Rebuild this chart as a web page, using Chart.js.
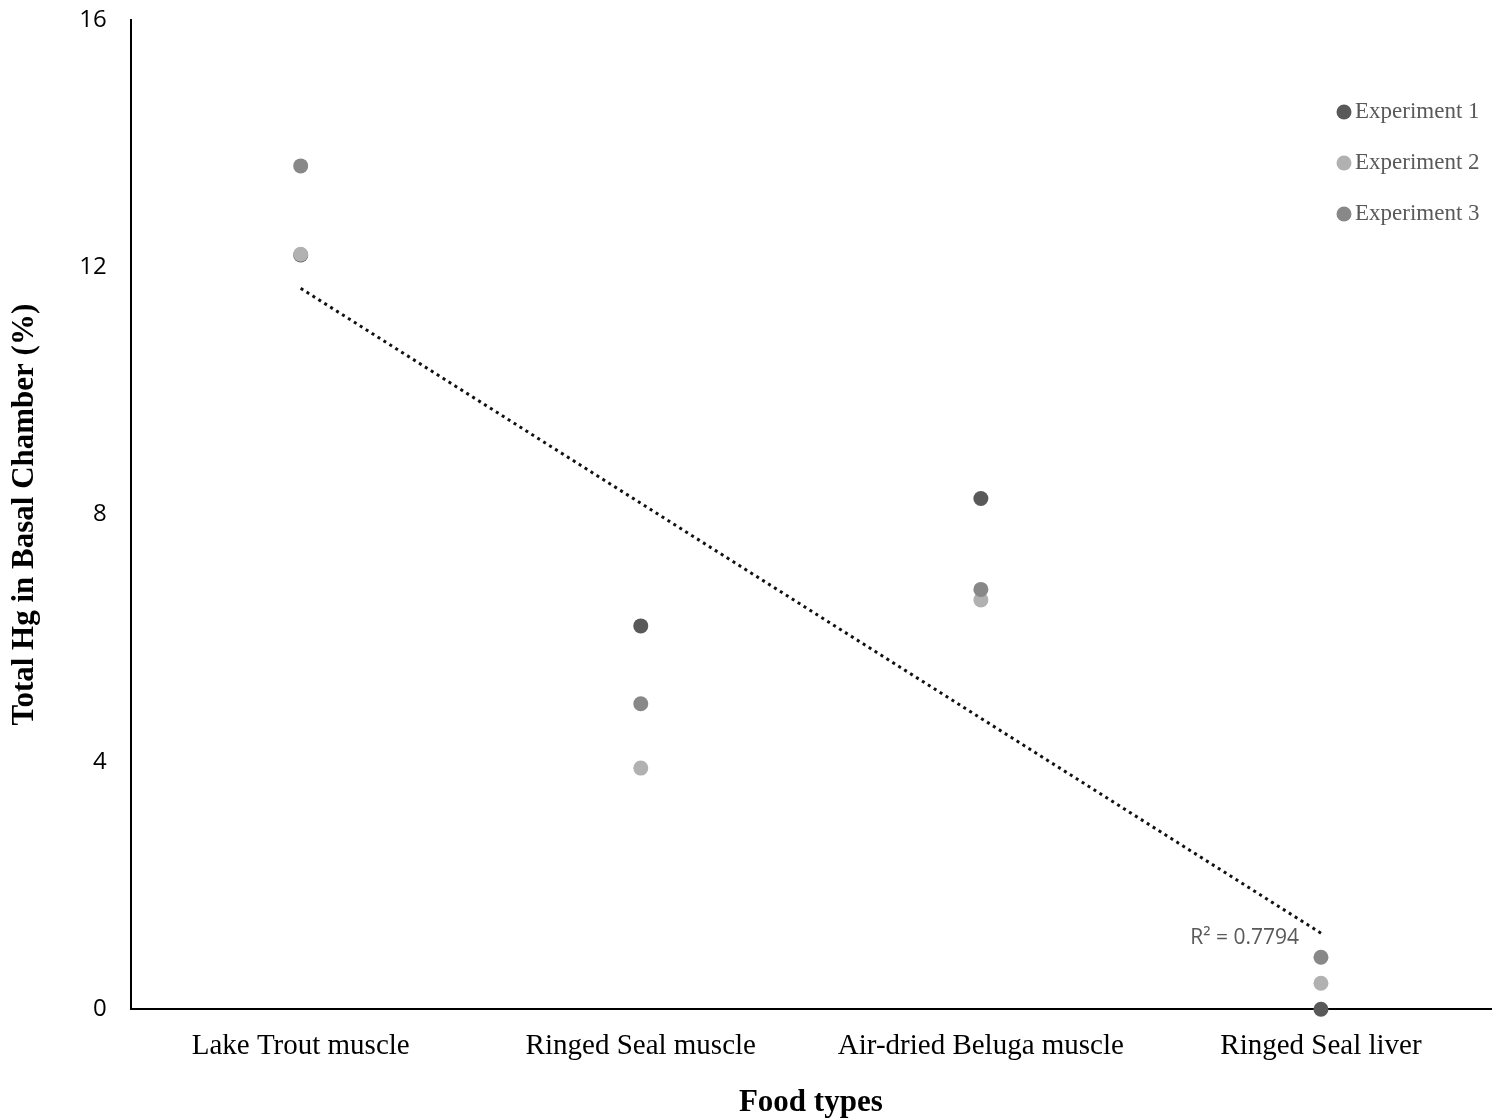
<!DOCTYPE html>
<html>
<head>
<meta charset="utf-8">
<script src="https://cdn.jsdelivr.net/npm/chart.js@4"></script>
<style>
  html, body { margin: 0; padding: 0; background: #fff; }
  #wrap { width: 1501px; height: 1118px; }
</style>
</head>
<body>
<div id="wrap"><canvas id="myChart"></canvas></div>
<script>
// categories and values
const foodTypes = ['Lake Trout muscle', 'Ringed Seal muscle', 'Air-dried Beluga muscle', 'Ringed Seal liver'];
const experiment1 = [12.2, 6.2, 8.26, 0];
const experiment2 = [12.21, 3.9, 6.62, 0.42];
const experiment3 = [13.64, 4.94, 6.79, 0.84];
const trendEnds = [11.66, null, null, 1.23];
const yTicks = [0, 4, 8, 12, 16];
const rSquared = 'R² = 0.7794';

const serif = '"Liberation Serif", "Times New Roman", serif';
const sans = '"Open Sans", "Noto Sans", sans-serif';

const colors = ['#595959', '#b1b1b1', '#888888'];

const legendPlugin = {
    id: 'sideLegend',
    afterDraw(chart) {
        const ctx = chart.ctx;
        ctx.save();
        ctx.font = '23px ' + serif;
        ctx.textBaseline = 'middle';
        ctx.textAlign = 'left';
        const items = chart.data.datasets.filter(d => d.isExp);
        items.forEach((d, i) => {
            const y = 112 + i * 51;
            ctx.fillStyle = d.backgroundColor;
            ctx.beginPath();
            ctx.arc(1344, y, 7.5, 0, Math.PI * 2);
            ctx.fill();
            ctx.fillStyle = '#595959';
            ctx.fillText(d.label, 1355, y);
        });
        // R squared label near the end of the trendline
        const xs = chart.scales.x, ys = chart.scales.y;
        ctx.font = '21px ' + sans;
        ctx.textAlign = 'right';
        ctx.fillStyle = '#595959';
        ctx.fillText(rSquared, xs.getPixelForValue(3) - 22, ys.getPixelForValue(trendEnds[3]) + 5);
        ctx.restore();
    }
};

function expSet(label, data, color, order) {
    return {
        label: label,
        data: data,
        isExp: true,
        order: order,
        clip: false,
        showLine: false,
        backgroundColor: color,
        borderColor: color,
        pointRadius: 7.5,
        pointHoverRadius: 7.5,
        pointBorderWidth: 0
    };
}

new Chart(document.getElementById('myChart'), {
    type: 'line',
    data: {
        labels: foodTypes,
        datasets: [
            expSet('Experiment 1', experiment1, colors[0], 3),
            expSet('Experiment 2', experiment2, colors[1], 2),
            expSet('Experiment 3', experiment3, colors[2], 1),
            {
                label: 'Trend',
                data: trendEnds,
                order: 0,
                spanGaps: true,
                borderColor: '#111',
                borderWidth: 3,
                borderDash: [3, 4],
                pointRadius: 0,
                fill: false
            }
        ]
    },
    plugins: [legendPlugin],
    options: {
        responsive: true,
        maintainAspectRatio: false,
        animation: false,
        layout: { padding: { top: 20, right: 10, left: 2, bottom: 0 } },
        plugins: {
            legend: { display: false },
            tooltip: { enabled: false }
        },
        scales: {
            x: {
                offset: true,
                grid: { display: false, drawTicks: false },
                border: { color: '#000', width: 2 },
                ticks: { color: '#000', font: { family: serif, size: 29 }, padding: 20 },
                title: { display: true, text: 'Food types', color: '#000', font: { family: serif, size: 31, weight: 'bold', lineHeight: 1.0 }, padding: { top: 3, bottom: 0 } }
            },
            y: {
                min: 0,
                max: 16,
                afterBuildTicks: axis => { axis.ticks = yTicks.map(v => ({ value: v })); },
                afterFit: axis => { axis.paddingTop = 0; axis.paddingBottom = 0; },
                grid: { display: false, drawTicks: false },
                border: { color: '#000', width: 2 },
                ticks: { color: '#000', font: { family: sans, size: 24 }, padding: 24 },
                title: { display: true, text: 'Total Hg in Basal Chamber (%)', color: '#000', font: { family: serif, size: 31, weight: 'bold' }, padding: { bottom: 12 } }
            }
        }
    }
});
</script>
</body>
</html>
